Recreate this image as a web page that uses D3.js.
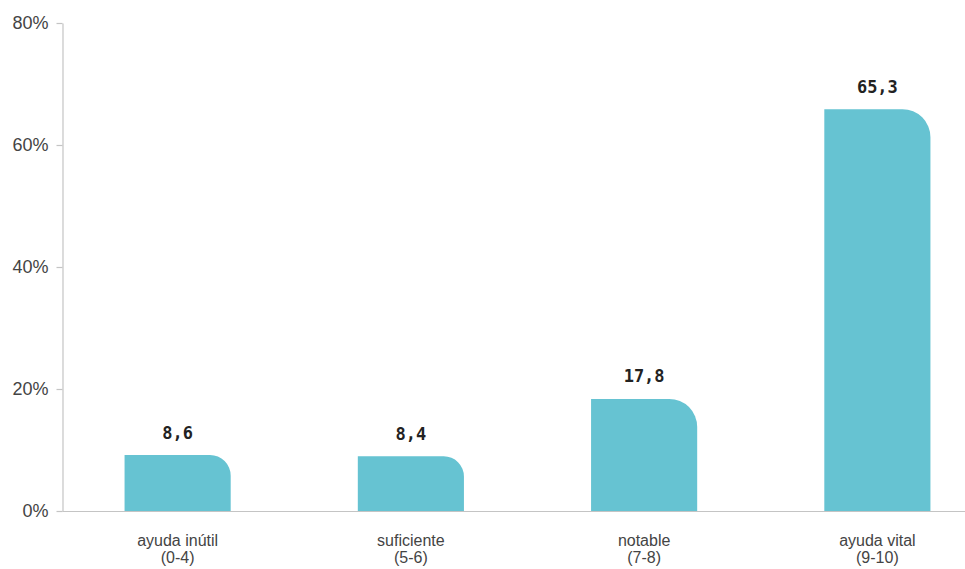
<!DOCTYPE html>
<html><head><meta charset="utf-8">
<script src="https://cdn.jsdelivr.net/npm/d3@7"></script>
<style>body{margin:0;background:#fff}svg{display:block}</style>
</head><body>
<svg id="c" width="965" height="569"></svg>
<script>
const categories = ["ayuda inútil", "suficiente", "notable", "ayuda vital"];
const ranges = ["(0-4)", "(5-6)", "(7-8)", "(9-10)"];
const values = [8.6, 8.4, 17.8, 65.3];
const valueLabels = ["8,6", "8,4", "17,8", "65,3"];
const yTicks = [0, 20, 40, 60, 80];

const svg = d3.select("#c");
const y = d3.scaleLinear().domain([0, 80]).range([511, 23]);
const x = d3.scaleBand().domain(categories).range([61, 994]).paddingInner(0.545).paddingOuter(0.2725);
const axisX = 62.5;

// y axis
const yAxis = d3.axisLeft(y).tickValues(yTicks).tickFormat(d => d + "%").tickSize(6).tickSizeOuter(0);
const gy = svg.append("g").attr("transform", `translate(${axisX},0)`).call(yAxis);
gy.select(".domain").attr("stroke", "#c4c4c4").attr("stroke-width", 1.2);
gy.selectAll(".tick line").attr("stroke", "#c4c4c4").attr("stroke-width", 1.2);
gy.selectAll(".tick text").attr("x", -14).attr("fill", "#444").style("font-family", "Liberation Sans, Arial, sans-serif").style("font-size", "18px");

// baseline
svg.append("line").attr("x1", axisX).attr("x2", 965).attr("y1", y(0) + 0.5).attr("y2", y(0) + 0.5)
  .attr("stroke", "#c4c4c4").attr("stroke-width", 1.2);

// bars with rounded top-right
function barPath(x0, w, yTop, yBot) {
  const h = yBot - yTop;
  const r = Math.min(28, h * 0.37);
  return `M${x0},${yBot}V${yTop}H${x0 + w - r}A${r},${r} 0 0 1 ${x0 + w},${yTop + r}V${yBot}Z`;
}
svg.append("g").selectAll("path").data(values).join("path")
  .attr("d", (d, i) => barPath(x(categories[i]), x.bandwidth(), y(d) - 3.5, y(0)))
  .attr("fill", "#66c3d2");

// value labels
svg.append("g").selectAll("text").data(values).join("text")
  .attr("x", (d, i) => x(categories[i]) + x.bandwidth() / 2)
  .attr("y", d => y(d) - 20)
  .attr("text-anchor", "middle")
  .attr("fill", "#222")
  .style("font-family", "DejaVu Sans Mono, monospace")
  .style("font-weight", "bold")
  .style("font-size", "17px")
  .text((d, i) => valueLabels[i]);

// category labels
const cl = svg.append("g").selectAll("text").data(categories).join("text")
  .attr("x", d => x(d) + x.bandwidth() / 2)
  .attr("y", 546)
  .attr("text-anchor", "middle")
  .attr("fill", "#444")
  .style("font-family", "Liberation Sans, Arial, sans-serif")
  .style("font-size", "16px");
cl.append("tspan").attr("x", d => x(d) + x.bandwidth() / 2).text(d => d);
cl.append("tspan").attr("x", d => x(d) + x.bandwidth() / 2).attr("dy", 17).text((d, i) => ranges[i]);
</script>
</body></html>
